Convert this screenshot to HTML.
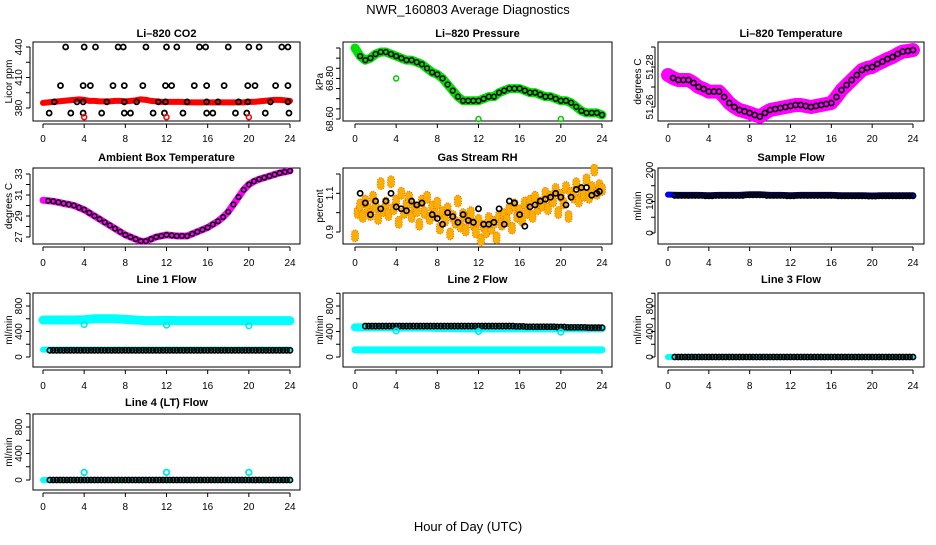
<!DOCTYPE html>
<html><head><meta charset="utf-8"><style>
html,body{margin:0;padding:0;background:#fff;}
svg text{font-family:"Liberation Sans",Arial,sans-serif;}
</style></head><body>
<svg id="c" width="936" height="540" viewBox="0 0 936 540" xmlns="http://www.w3.org/2000/svg">
<rect width="936" height="540" fill="#fff"/>
<text x="468" y="14" text-anchor="middle" font-size="13">NWR_160803  Average Diagnostics</text>
<text x="468" y="531" text-anchor="middle" font-size="13">Hour of Day (UTC)</text>
</svg>
<script>
// ---------- data ----------
const xTicks = [0,4,8,12,16,20,24];
const halfHours = [0,0.5,1,1.5,2,2.5,3,3.5,4,4.5,5,5.5,6,6.5,7,7.5,8,8.5,9,9.5,10,10.5,11,11.5,12,12.5,13,13.5,14,14.5,15,15.5,16,16.5,17,17.5,18,18.5,19,19.5,20,20.5,21,21.5,22,22.5,23,23.5,24];
const co2Red = [385,385.5,386,386.5,387,387.5,388,388.5,388,387,387,386.5,386.5,386.5,387,387,386.5,387,387.5,388.5,388,387,386.5,386,386,386,386,386,385.5,385.5,385.5,385.5,385.5,385.5,385.5,385.5,385.5,385.5,385.5,385.5,386,386,386.5,387,387.5,388,388,387.5,387];
const co2BlackX = [2.2,4,5.1,7.3,7.8,10,12,13,15.2,15.8,18,20,21,23.2,23.8, 1.7,3.9,4.6,6.8,7.9,9.7,11.9,12.5,14.7,15.9,17.6,19.9,20.6,22.6,23.8, 1.1,3.3,3.9,6.2,7.9,9.1,11.2,11.9,14,15.9,17,19,19.9,22.1,23.8, 0.6,2.7,3.9,5.7,7.9,8.5,10.7,11.8,13.6,15.9,16.5,18.7,19.8,21.6,23.9];
const co2BlackY = [440,440,440,440,440,440,440,440,440,440,440,440,440,440,440, 402,402,402,402,402,402,402,402,402,402,402,402,402,402,402, 386,386,386,386,386,386,386,386,386,386,386,386,386,386,386, 375,375,375,375,375,375,375,375,375,375,375,375,375,375,375];
const co2OutX = [4,12,20];
const co2OutY = [371,371,371];
const pressGreen = [68.95,68.91,68.89,68.90,68.92,68.93,68.93,68.92,68.91,68.90,68.89,68.89,68.88,68.87,68.85,68.83,68.82,68.80,68.77,68.74,68.71,68.69,68.69,68.69,68.69,68.70,68.71,68.71,68.73,68.74,68.75,68.75,68.75,68.74,68.73,68.73,68.72,68.71,68.71,68.70,68.69,68.69,68.68,68.66,68.64,68.63,68.63,68.63,68.62];
const pressOutX = [4,12,20];
const pressOutY = [68.80,68.60,68.60];
const tempMag = [51.276,51.2745,51.2735,51.2735,51.2735,51.272,51.270,51.269,51.2677,51.2677,51.2677,51.265,51.262,51.260,51.2585,51.2578,51.257,51.256,51.2552,51.257,51.2585,51.259,51.2595,51.260,51.2605,51.261,51.261,51.2605,51.260,51.2605,51.261,51.2615,51.262,51.265,51.2685,51.271,51.2735,51.276,51.2785,51.2795,51.280,51.2815,51.2827,51.284,51.285,51.2865,51.2877,51.288,51.2885];
const ambMag = [30.5,30.45,30.4,30.3,30.2,30.1,30.0,29.8,29.6,29.3,29.0,28.7,28.4,28.1,27.8,27.5,27.2,27.0,26.8,26.6,26.6,26.8,27.0,27.1,27.2,27.15,27.1,27.1,27.1,27.3,27.5,27.7,27.9,28.2,28.5,28.9,29.4,30.1,30.8,31.5,32.0,32.3,32.5,32.65,32.8,32.95,33.1,33.2,33.3];
const rhOrange = [0.88,1.00,1.04,0.98,1.06,1.02,0.99,1.08,1.03, 0.97,1.15,1.01,1.05,0.99,1.16,1.02,1.06, 0.95,1.10,1.00,1.04,1.08,0.98,1.03,1.01, 0.94,1.06,1.00,1.08,0.97,1.03,0.99,1.05, 0.92,1.00,0.96,1.02,0.89,0.98,0.95,1.06, 0.93,0.99,0.91,0.97,1.00,0.94,0.90,0.96, 0.86,0.93,0.90,0.97,0.92,0.95,0.87,0.98, 0.94,0.99,0.96,1.02,0.92,1.04,0.98,1.01, 0.96,1.05,1.00,1.06,0.98,1.08,1.02,1.05, 1.04,1.10,1.02,1.08,1.06,1.12,1.00,1.09, 1.05,1.13,0.98,1.10,1.08,1.15,1.06,1.11, 1.09,1.17,1.08,1.13,1.22,1.10,1.14,1.12];
const rhBlackX = [0.5,1,1.5,2,2.5,3,3.5,4,4.5,5,5.5,6,6.5,7.5,8,8.5,9,9.5,10,10.5,11,11.5,12,12.5,13,13.5,14,14.5,15,15.5,16,16.5,17,17.5,18,18.5,19,19.5,20,20.5,21,21.5,22,22.5,23,23.5,23.75];
const rhBlackY = [1.1,1.05,0.99,1.06,1.02,1.06,1.10,1.03,1.02,1.01,1.06,1.04,1.05,0.99,0.97,0.94,1.0,0.98,0.95,0.99,0.96,0.95,1.02,0.94,0.94,0.95,1.02,0.94,1.06,1.05,0.99,0.93,1.03,1.04,1.06,1.07,1.08,1.1,1.08,1.04,1.08,1.12,1.13,1.13,1.09,1.10,1.11];
const hours = [0,1,2,3,4,5,6,7,8,9,10,11,12,13,14,15,16,17,18,19,20,21,22,23,24];
const sampleBlue = [122,121,121,121,120,121,121,121,123,123,121,121,120,121,121,121,121,120,120,120,119,120,120,120,120];
const sampleBlack = [119,119,119,119,118,119,119,119,121,121,119,119,118,119,119,119,119,118,118,118,117,118,118,118,118];
const line1CyanHi = [580,580,580,580,585,600,600,600,590,580,570,570,575,570,570,570,570,570,570,570,570,570,570,570,570];
const line1CyanLo = [115,115,115,115,115,115,115,115,115,115,115,115,115,115,115,115,115,115,115,115,115,115,115,115,115];
const line1Black = [105,105,105,105,105,105,105,105,105,105,105,105,105,105,105,105,105,105,105,105,105,105,105,105,105];
const line2CyanHi = [465,465,465,465,460,460,460,460,455,455,450,450,450,450,450,450,450,450,450,450,450,450,450,450,450];
const line2CyanLo = [112,112,112,112,112,112,112,112,112,112,112,112,112,112,112,112,112,112,112,112,112,112,112,112,112];
const line2Black = [485,485,485,485,485,485,485,485,485,485,485,485,485,485,485,485,480,475,475,475,470,465,465,460,460];
const line3Cyan = [0,0,0,0,0,0,0,0,0,0,0,0,0,0,0,0,0,0,0,0,0,0,0,0,0];
const line3Black = [0,0,0,0,0,0,0,0,0,0,0,0,0,0,0,0,0,0,0,0,0,0,0,0,0];
const line4Cyan = [0,0,0,0,0,0,0,0,0,0,0,0,0,0,0,0,0,0,0,0,0,0,0,0,0];
const line4Black = [0,0,0,0,0,0,0,0,0,0,0,0,0,0,0,0,0,0,0,0,0,0,0,0,0];
const flowOutX = [4,12,20];
const line1OutY = [510,500,490];
const line2OutY = [410,400,390];
const line4OutY = [115,115,115];

// ---------- drawing helpers ----------
const NS = 'http://www.w3.org/2000/svg';
const svg = document.getElementById('c');
function mk(tag, attrs, parent){
  const e = document.createElementNS(NS, tag);
  for (const k in attrs) e.setAttribute(k, attrs[k]);
  (parent||svg).appendChild(e);
  return e;
}
const cols = [{bl:33,br:300,x0:43,x24:290,tl:19,al:9},{bl:343,br:612,x0:355,x24:602,tl:330,al:320},{bl:658,br:924,x0:668,x24:913,tl:650,al:638}];
const rows = [{bt:42,bb:121,title:37,tick:142},{bt:168,bb:244,title:161,tick:266},{bt:293,bb:367,title:283,tick:389},{bt:414,bb:490,title:406,tick:510}];

function panel(name, title, ylab, c, r, va, ya, vb, yb, ticks, labels, fmt){
  const C = cols[c], R = rows[r];
  const g = mk('g', {});
  
  
  const sx = h => C.x0 + (C.x24 - C.x0) * h / 24;
  const sy = v => ya + (yb - ya) * (v - va) / (vb - va);
  const t = mk('text', {x:(C.bl+C.br)/2, y:R.title, 'text-anchor':'middle', 'font-size':11, 'font-weight':'bold'}, g);
  t.textContent = title;
  
  
  const box = mk('rect', {x:C.bl, y:R.bt, width:C.br-C.bl, height:R.bb-R.bt, fill:'none', stroke:'#000', 'stroke-width':1}, g);
  
  
  const xa = mk('g', {}, g);
  
  
  const ay = R.bb + 3;
  mk('line', {x1:sx(0), x2:sx(24), y1:ay, y2:ay, stroke:'#000'}, xa);
  xTicks.forEach(h => {
    mk('line', {x1:sx(h), x2:sx(h), y1:ay, y2:ay+4, stroke:'#000'}, xa);
    const tl = mk('text', {x:sx(h), y:R.tick, 'text-anchor':'middle', 'font-size':10}, xa);
    tl.textContent = h;
    
    
  });
  const ya_ = mk('g', {}, g);
  
  
  const ax = C.bl - 3;
  mk('line', {x1:ax, x2:ax, y1:sy(ticks[0]), y2:sy(ticks[ticks.length-1]), stroke:'#000'}, ya_);
  ticks.forEach(v => mk('line', {x1:ax-4, x2:ax, y1:sy(v), y2:sy(v), stroke:'#000'}, ya_));
  labels.forEach(v => {
    const tl = mk('text', {x:0, y:0, 'text-anchor':'middle', 'font-size':10, transform:`translate(${C.tl+3},${sy(v)}) rotate(-90)`}, ya_);
    tl.textContent = fmt ? v.toFixed(fmt) : v;
    
    
  });
  const yl = mk('text', {x:0, y:0, 'text-anchor':'middle', 'font-size':10, transform:`translate(${C.al+3},${(R.bt+R.bb)/2}) rotate(-90)`}, g);
  yl.textContent = ylab;
  
  
  const clip = 'clip-' + name;
  const cp = mk('clipPath', {id:clip}, g);
  mk('rect', {x:C.bl, y:R.bt-4, width:C.br-C.bl, height:R.bb-R.bt+8}, cp);
  const pg = mk('g', {'clip-path':`url(#${clip})`}, g);
  return {sx, sy, g:pg};
}
function band(P, xs, ys, color, w, name){
  const pts = xs.map((x,i) => P.sx(x)+','+P.sy(ys[i])).join(' ');
  const p = mk('polyline', {points:pts, fill:'none', stroke:color, 'stroke-width':w, 'stroke-linejoin':'round', 'stroke-linecap':'round'}, P.g);
  
  
}
function pts(P, xs, ys, color, r, sw, name){
  const gg = mk('g', {}, P.g);
  
  
  xs.forEach((x,i) => {
    const c = mk('circle', {cx:P.sx(x), cy:P.sy(ys[i]), r:r, fill:'none', stroke:color, 'stroke-width':sw}, gg);
    
    
  });
}
function dense(P, arr, color, name, start){
  const xs = [], ys = [];
  for (let k = 0; k <= 72; k++){ const x = k/3; if (x < start) continue; xs.push(x); ys.push(arr[Math.round(x)]); }
  pts(P, xs, ys, color, 2.6, 1.6, name);
}

// ---------- panels ----------
let P;
P = panel('co2','Li\u2013820 CO2','Licor ppm',0,0,380,108,440,47,[380,395,410,425,440],[380,410,440]);
band(P, halfHours, co2Red, '#ff0000', 6, 'co2-red-series');
pts(P, co2BlackX, co2BlackY, '#000', 2.5, 1.8, 'co2-black-series');
pts(P, co2OutX, co2OutY, '#ff0000', 2.5, 1.5, 'co2-red-outliers');

P = panel('pressure','Li\u2013820 Pressure','kPa',1,0,68.60,119,68.95,48,[68.60,68.65,68.70,68.75,68.80,68.85,68.90,68.95],[68.60,68.80],2);
band(P, halfHours, pressGreen, '#00e000', 9, 'pressure-green-series');
pts(P, halfHours.slice(1), pressGreen.slice(1), '#000', 2.4, 1.5, 'pressure-black-series');
pts(P, pressOutX, pressOutY, '#00cc00', 2.5, 1.5, 'pressure-green-outliers');

P = panel('temperature','Li\u2013820 Temperature','degrees C',2,0,51.26,107,51.29,47,[51.26,51.27,51.28,51.29],[51.26,51.28],2);
band(P, halfHours, tempMag, '#ff00ff', 14, 'temperature-magenta-series');
pts(P, halfHours.slice(1), tempMag.slice(1), '#000', 2.6, 1.6, 'temperature-black-series');

P = panel('ambient','Ambient Box Temperature','degrees C',0,1,27,237,33,174,[27,28,29,30,31,32,33],[27,29,31,33]);
band(P, halfHours, ambMag, '#ff00ff', 7, 'ambient-magenta-series');
pts(P, halfHours.slice(1), ambMag.slice(1), '#000', 2.3, 1.5, 'ambient-black-series');

P = panel('rh','Gas Stream RH','percent',1,1,0.9,232,1.2,174,[0.9,1.0,1.1,1.2],[0.9,1.1],1);
{
  const gg = mk('g', {}, P.g);
  
  
  rhOrange.forEach((v,i) => {
    const x = P.sx(i*0.25), y = P.sy(v);
    const e = mk('rect', {x:x-3.5, y:y-6, width:7, height:12, rx:3.5, fill:'#f8b000', stroke:'#ff5000', 'stroke-width':0.8, 'stroke-dasharray':'1 1.5'}, gg);
    
    
  });
}
pts(P, rhBlackX, rhBlackY, '#000', 2.6, 1.7, 'rh-black-series');

P = panel('sample-flow','Sample Flow','ml/min',2,1,0,233,200,170,[0,50,100,150,200],[0,100,200]);
band(P, hours, sampleBlue, '#0000ff', 6, 'sample-flow-blue-series');
dense(P, sampleBlack, '#000', 'sample-flow-black-series', 0.5);

const flowTicks = [0,200,400,600,800,1000];
const flowLabels = [0,400,800];
P = panel('line1-flow','Line 1 Flow','ml/min',0,2,0,357,800,306,flowTicks,flowLabels);
band(P, hours, line1CyanHi, '#00ffff', 9, 'line1-cyan-high-series');
band(P, hours, line1CyanLo, '#00ffff', 6, 'line1-cyan-low-series');
dense(P, line1Black, '#000', 'line1-black-series', 0.5);
pts(P, flowOutX, line1OutY, '#00e8e8', 2.8, 1.6, 'line1-cyan-outliers');

P = panel('line2-flow','Line 2 Flow','ml/min',1,2,0,357,800,306,flowTicks,flowLabels);
band(P, hours, line2CyanHi, '#00ffff', 8, 'line2-cyan-high-series');
band(P, hours, line2CyanLo, '#00ffff', 7, 'line2-cyan-low-series');
dense(P, line2Black, '#000', 'line2-black-series', 0.67);
pts(P, flowOutX, line2OutY, '#00e8e8', 2.8, 1.6, 'line2-cyan-outliers');

P = panel('line3-flow','Line 3 Flow','ml/min',2,2,0,357,800,306,flowTicks,flowLabels);
band(P, hours, line3Cyan, '#00ffff', 6, 'line3-cyan-series');
dense(P, line3Black, '#000', 'line3-black-series', 0.5);

P = panel('line4-flow','Line 4 (LT) Flow','ml/min',0,3,0,480,800,427,flowTicks,flowLabels);
band(P, hours, line4Cyan, '#00ffff', 6, 'line4-cyan-series');
dense(P, line4Black, '#000', 'line4-black-series', 0.5);
pts(P, flowOutX, line4OutY, '#00e8e8', 2.8, 1.8, 'line4-cyan-outliers');
</script>
</body></html>
